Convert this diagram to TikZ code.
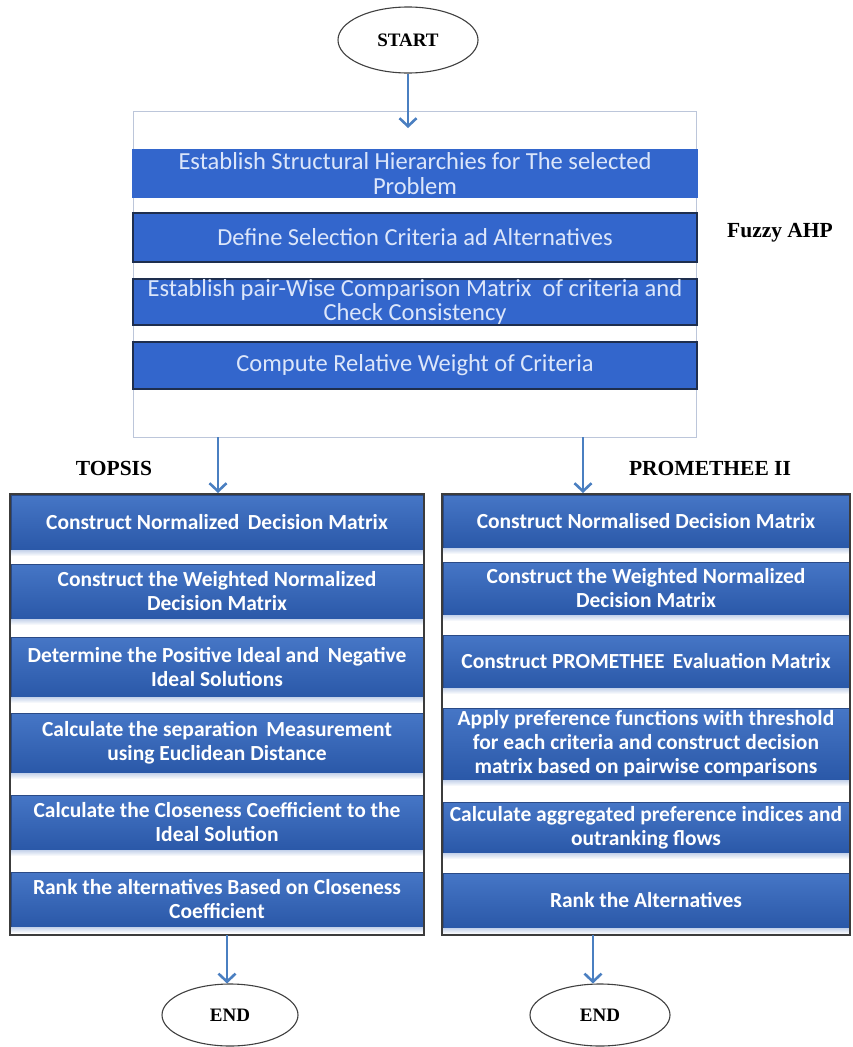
\documentclass[tikz,border=0pt]{standalone}
\usepackage{fontspec}
\setmainfont{Liberation Serif}
\newfontfamily\barfont{Carlito}
\usetikzlibrary{shapes.geometric,arrows.meta}
\definecolor{flatblue}{HTML}{3366CC}
\definecolor{flatedge}{HTML}{1E2E4E}
\definecolor{flattext}{HTML}{DCE6FA}
\definecolor{barTop}{HTML}{4676C6}
\definecolor{barBot}{HTML}{2A58A8}
\definecolor{barEdge}{HTML}{2A4A86}
\definecolor{arrowblue}{HTML}{4A7FC1}
\definecolor{boxline}{HTML}{BCC6DA}
\definecolor{colline}{HTML}{3C3C3C}
\definecolor{glow}{HTML}{C4D2EA}
\tikzset{
  flatbar/.style={rectangle, inner sep=0pt, outer sep=0pt, fill=flatblue,
    draw=flatedge, line width=1.2pt, text=flattext, align=center,
    minimum width=564pt, font=\barfont\fontsize{24.5}{24.5}\selectfont},
  colbar/.style={rectangle, inner sep=0pt, outer sep=0pt, top color=barTop,
    bottom color=barBot, draw=barEdge, line width=0.6pt, text=white, align=center,
    font=\barfont\bfseries\fontsize{21.5}{24}\selectfont},
  lbar/.style={colbar, minimum width=412pt},
  rbar/.style={colbar, minimum width=406pt},
  terminal/.style={ellipse, draw=black!75, line width=1.1pt, inner sep=0pt,
    font=\bfseries\fontsize{19}{22}\selectfont},
  tag/.style={font=\bfseries\fontsize{21.5}{24}\selectfont, inner sep=0pt},
  flow/.style={draw=arrowblue, line width=2.8pt,
    -{Straight Barb[length=8pt,width=17pt,line width=2.6pt]}},
}
\begin{document}
\begin{tikzpicture}[x=1pt,y=-1pt]
\useasboundingbox (0,0) rectangle (852,1047);
\fill[white] (0,0) rectangle (852,1047);

% start
\node[terminal, minimum width=140pt, minimum height=66pt] (start) at (408,40) {START};

% Fuzzy AHP block
\draw[boxline, line width=1pt] (133,111) rectangle (696,437);
\coordinate (topN) at (408,128);
\node[flatbar, minimum height=47pt, draw=flatblue] (b1) at (415,173.5) {Establish Structural Hierarchies for The selected\\Problem};
\node[flatbar, minimum height=49pt] (b2) at (415,237.5) {Define Selection Criteria ad Alternatives};
\node[flatbar, minimum height=46pt] (b3) at (415,302) {Establish pair-Wise Comparison Matrix \ of criteria and\\Check Consistency};
\node[flatbar, minimum height=47pt] (b4) at (415,365.5) {Compute Relative Weight of Criteria};
\node[tag] (fahp) at (780,233) {Fuzzy AHP};

\draw[flow] (start.south) -- (topN);

% labels
\node[tag] (topsis) at (114,468) {TOPSIS};
\node[tag] (prom) at (710,468) {PROMETHEE II};

% left column
\node[lbar, minimum height=55pt] (l1) at (217,522.5) {Construct Normalized \,Decision Matrix};
\node[lbar, minimum height=55pt] (l2) at (217,591.5) {Construct the Weighted Normalized\\Decision Matrix};
\node[lbar, minimum height=60pt] (l3) at (217,667) {Determine the Positive Ideal and \,Negative\\Ideal Solutions};
\node[lbar, minimum height=60pt] (l4) at (217,743) {Calculate the separation \,Measurement\\using Euclidean Distance};
\node[lbar, minimum height=55pt] (l5) at (217,822.5) {Calculate the Closeness Coefficient to the\\Ideal Solution};
\node[lbar, minimum height=55pt] (l6) at (217,899.5) {Rank the alternatives Based on Closeness\\Coefficient};

% right column
\node[rbar, minimum height=53pt] (r1) at (646,521.5) {Construct Normalised Decision Matrix};
\node[rbar, minimum height=53pt] (r2) at (646,588.5) {Construct the Weighted Normalized\\Decision Matrix};
\node[rbar, minimum height=53pt] (r3) at (646,661.5) {Construct PROMETHEE \,Evaluation Matrix};
\node[rbar, minimum height=72pt] (r4) at (646,744) {Apply preference functions with threshold\\for each criteria and construct decision\\matrix based on pairwise comparisons};
\node[rbar, minimum height=51pt] (r5) at (646,827.5) {Calculate aggregated preference indices and\\outranking flows};
\node[rbar, minimum height=55pt] (r6) at (646,900.5) {Rank the Alternatives};

% soft reflections under the column bars
\foreach \b in {l1,l2,l3,l4,l5,l6,r1,r2,r3,r4,r5,r6}{
  \shade[top color=glow, bottom color=white] (\b.south west) rectangle ([yshift=-6pt]\b.south east);
}

% column frames
\draw[colline, line width=1.5pt] (10,494) rectangle (424,935);
\draw[colline, line width=1.5pt] (442,494) rectangle (850,935);

% arrows from Fuzzy AHP block
\coordinate (tl) at (218,437);
\coordinate (tlE) at (218,493);
\coordinate (tr) at (583,437);
\coordinate (trE) at (583,493);
\draw[flow] (tl) -- (tlE);
\draw[flow] (tr) -- (trE);

% ends
\node[terminal, minimum width=136pt, minimum height=62pt] (endL) at (230,1015) {END};
\node[terminal, minimum width=140pt, minimum height=62pt] (endR) at (600,1015) {END};
\coordinate (bl) at (227,935);
\coordinate (br) at (593,935);
\draw[flow] (bl) -- (bl |- endL.north);
\draw[flow] (br) -- (br |- endR.north);
\end{tikzpicture}
\end{document}
